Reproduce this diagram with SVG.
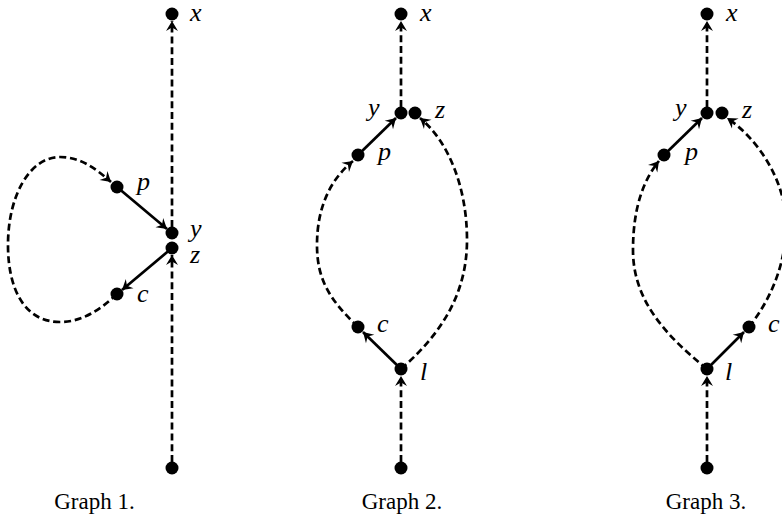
<svg xmlns="http://www.w3.org/2000/svg" width="782" height="518" viewBox="0 0 782 518">
<style>
.n{fill:#000}
.e{fill:none;stroke:#000;stroke-width:2.7}
.d{stroke-dasharray:7,3.8}
.lb{font-family:"Liberation Serif","Times New Roman",serif;font-style:italic;font-size:26px;fill:#000}
.cap{font-family:"Liberation Serif","Times New Roman",serif;font-size:23px;fill:#000;text-anchor:middle}
</style>
<defs>
<marker id="ah" markerUnits="userSpaceOnUse" viewBox="-12 -7 14 14" refX="0" refY="0" markerWidth="14" markerHeight="14" orient="auto">
<path d="M0,0 L-10,-6 L-6.5,0 L-10,6 Z" fill="#000"/>
</marker>
</defs>
<rect width="782" height="518" fill="#fff"/>
<g id="connectors">
<!-- Graph 1 -->
<path class="e d" d="M172,227 L172,21" marker-end="url(#ah)"/>
<path class="e d" d="M172,462 L172,255" marker-end="url(#ah)"/>
<path class="e" d="M117,187 L167,229" marker-end="url(#ah)"/>
<path class="e" d="M172,248 L122,290" marker-end="url(#ah)"/>
<path class="e d" d="M117,294 C100,310 82,322 60,322 C25,322 8,290 8,245 C8,195 30,157 60,157 C80,157 95,168 111,182" marker-end="url(#ah)"/>
<!-- Graph 2 -->
<path class="e d" d="M401,107 L401,21" marker-end="url(#ah)"/>
<path class="e d" d="M401,462 L401,376" marker-end="url(#ah)"/>
<path class="e" d="M358,155 L396,118" marker-end="url(#ah)"/>
<path class="e" d="M401,369 L363,332" marker-end="url(#ah)"/>
<path class="e d" d="M358,327 C330,300 317,280 317,245 C317,205 332,178 353,161" marker-end="url(#ah)"/>
<path class="e d" d="M401,369 C440,335 467,295 467,240 C467,185 447,140 420,118" marker-end="url(#ah)"/>
<!-- Graph 3 -->
<path class="e d" d="M707,107 L707,21" marker-end="url(#ah)"/>
<path class="e d" d="M707,462 L707,376" marker-end="url(#ah)"/>
<path class="e" d="M664,155 L702,118" marker-end="url(#ah)"/>
<path class="e" d="M707,369 L744,332" marker-end="url(#ah)"/>
<path class="e d" d="M707,369 C665,335 633,300 633,250 C633,205 645,178 659,161" marker-end="url(#ah)"/>
<path class="e d" d="M749,327 C772,298 786,262 786,225 C786,180 757,138 727,118" marker-end="url(#ah)"/>
</g>
<!-- Graph 1 nodes -->
<g id="g1-x"><circle class="n" cx="172" cy="14" r="6.5"/><text class="lb" x="190" y="21">x</text></g>
<g id="g1-p"><circle class="n" cx="117" cy="187" r="6.5"/><text class="lb" x="137" y="190">p</text></g>
<g id="g1-y"><circle class="n" cx="172" cy="233" r="6.5"/><text class="lb" x="190" y="237">y</text></g>
<g id="g1-z"><circle class="n" cx="172" cy="248" r="6.5"/><text class="lb" x="190" y="263">z</text></g>
<g id="g1-c"><circle class="n" cx="117" cy="294" r="6.5"/><text class="lb" x="137" y="302">c</text></g>
<g id="g1-s"><circle class="n" cx="172" cy="468" r="6.5"/></g>
<g id="g1-caption"><text class="cap" x="94.5" y="509">Graph 1.</text></g>
<!-- Graph 2 nodes -->
<g id="g2-x"><circle class="n" cx="401" cy="14" r="6.5"/><text class="lb" x="420" y="21">x</text></g>
<g id="g2-y"><circle class="n" cx="401" cy="113" r="6.5"/><text class="lb" x="368" y="116">y</text></g>
<g id="g2-z"><circle class="n" cx="415" cy="113" r="6.5"/><text class="lb" x="435" y="118">z</text></g>
<g id="g2-p"><circle class="n" cx="358" cy="155" r="6.5"/><text class="lb" x="378" y="160">p</text></g>
<g id="g2-c"><circle class="n" cx="358" cy="327" r="6.5"/><text class="lb" x="377" y="332">c</text></g>
<g id="g2-l"><circle class="n" cx="401" cy="369" r="6.5"/><text class="lb" x="420" y="380">l</text></g>
<g id="g2-s"><circle class="n" cx="401" cy="468" r="6.5"/></g>
<g id="g2-caption"><text class="cap" x="402" y="509">Graph 2.</text></g>
<!-- Graph 3 nodes -->
<g id="g3-x"><circle class="n" cx="707" cy="14" r="6.5"/><text class="lb" x="726" y="21">x</text></g>
<g id="g3-y"><circle class="n" cx="707" cy="113" r="6.5"/><text class="lb" x="675" y="116">y</text></g>
<g id="g3-z"><circle class="n" cx="722" cy="113" r="6.5"/><text class="lb" x="742" y="118">z</text></g>
<g id="g3-p"><circle class="n" cx="664" cy="155" r="6.5"/><text class="lb" x="685" y="160">p</text></g>
<g id="g3-c"><circle class="n" cx="749" cy="327" r="6.5"/><text class="lb" x="768" y="332">c</text></g>
<g id="g3-l"><circle class="n" cx="707" cy="369" r="6.5"/><text class="lb" x="725" y="380">l</text></g>
<g id="g3-s"><circle class="n" cx="707" cy="468" r="6.5"/></g>
<g id="g3-caption"><text class="cap" x="706" y="509">Graph 3.</text></g>
</svg>
